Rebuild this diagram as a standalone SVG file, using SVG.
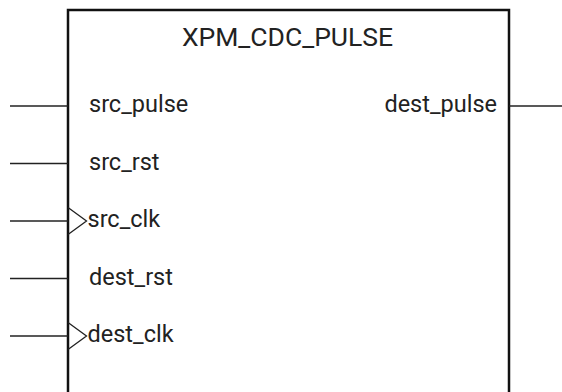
<svg xmlns="http://www.w3.org/2000/svg" width="562" height="392" viewBox="0 0 562 392">
<style>
.t{font-family:Roboto,"Liberation Sans",sans-serif;font-size:23.5px;fill:#222}
.h{font-size:26.5px}
.w{stroke:#222;stroke-width:1.3;fill:none}
.b{stroke:#111;stroke-width:2.5;fill:none}
</style>
<rect width="562" height="392" fill="#fff"/>
<g id="block">
<path class="b" d="M68,400 V10 H509 V400"/>
<text class="t h" x="287.5" y="45.5" text-anchor="middle">XPM_CDC_PULSE</text>
</g>
<g id="connectors">
<line class="w" x1="10" y1="106" x2="68" y2="106"/>
<line class="w" x1="10" y1="163.5" x2="68" y2="163.5"/>
<line class="w" x1="10" y1="221" x2="68" y2="221"/>
<line class="w" x1="10" y1="278.5" x2="68" y2="278.5"/>
<line class="w" x1="10" y1="336" x2="68" y2="336"/>
<line class="w" x1="509" y1="106" x2="562" y2="106"/>
</g>
<g id="src_pulse"><text class="t" x="89" y="112">src_pulse</text></g>
<g id="src_rst"><text class="t" x="89" y="169.5">src_rst</text></g>
<g id="src_clk"><path class="w" d="M68,207.5 L86.5,221 L68,234.5"/><text class="t" x="87.5" y="227">src_clk</text></g>
<g id="dest_rst"><text class="t" x="89" y="284.5">dest_rst</text></g>
<g id="dest_clk"><path class="w" d="M68,322.5 L86.5,336 L68,349.5"/><text class="t" x="87.5" y="342">dest_clk</text></g>
<g id="dest_pulse"><text class="t" x="497" y="112" text-anchor="end">dest_pulse</text></g>
</svg>
